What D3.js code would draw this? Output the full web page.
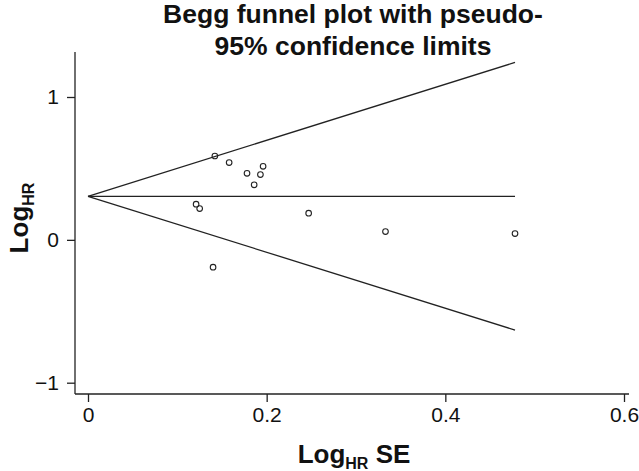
<!DOCTYPE html>
<html>
<head>
<meta charset="utf-8">
<script src="https://cdn.jsdelivr.net/npm/d3@7"></script>
<style>
  body { margin: 0; background: #fff; }
  text { font-family: "Liberation Sans", Arial, sans-serif; fill: #111; }
</style>
</head>
<body>
<script>
// study standard errors and log hazard ratios
var studySE    = [0.142, 0.158, 0.178, 0.196, 0.193, 0.186, 0.121, 0.125, 0.140, 0.247, 0.333, 0.478];
var studyLogHR = [0.587, 0.541, 0.466, 0.515, 0.457, 0.385, 0.250, 0.219, -0.191, 0.187, 0.058, 0.044];
var pooled = 0.305;
var xTicks = [0, 0.2, 0.4, 0.6];
var yTicks = [-1, 0, 1];

var w = 639, h = 471;

var svg = d3.select("body")
    .append("svg")
    .attr("width", w)
    .attr("height", h);

var xScale = d3.scaleLinear().domain([0, 0.6]).range([88, 624]);
var yScale = d3.scaleLinear().domain([-1, 1]).range([382.7, 97]);

var data = studySE.map(function(d, i) { return {se: d, lhr: studyLogHR[i]}; });
var seMax = d3.max(studySE);

// axes
var xAxis = d3.axisBottom(xScale)
    .tickValues(xTicks)
    .tickSize(8)
    .tickPadding(5)
    .tickFormat(function(d) { return d === 0 ? "0" : d3.format(".1f")(d); });

var yAxis = d3.axisLeft(yScale)
    .tickValues(yTicks)
    .tickSize(8)
    .tickPadding(8)
    .tickFormat(function(d) { return d < 0 ? "\u2212" + Math.abs(d) : String(d); });

var gx = svg.append("g")
    .attr("transform", "translate(0,394)")
    .call(xAxis);
var gy = svg.append("g")
    .attr("transform", "translate(75,0)")
    .call(yAxis);

[gx, gy].forEach(function(g) {
    g.select(".domain").remove();
    g.selectAll(".tick line").attr("stroke", "#222").attr("stroke-width", 1.3);
    g.selectAll(".tick text")
        .style("font-family", "'Liberation Sans', Arial, sans-serif")
        .style("font-size", "21px")
        .attr("fill", "#111");
});

// axis lines (plot region is a bit wider than the ticks)
svg.append("line")
    .attr("x1", 75).attr("x2", 629).attr("y1", 394).attr("y2", 394)
    .attr("stroke", "#222").attr("stroke-width", 1.3);
svg.append("line")
    .attr("x1", 75).attr("x2", 75).attr("y1", 52).attr("y2", 394)
    .attr("stroke", "#222").attr("stroke-width", 1.3);

// pseudo 95% limits and pooled estimate
var lines = [
    [pooled, pooled + 1.96 * seMax],
    [pooled, pooled],
    [pooled, pooled - 1.96 * seMax]
];
svg.selectAll(".funnel")
    .data(lines)
    .enter()
    .append("line")
    .attr("class", "funnel")
    .attr("x1", xScale(0))
    .attr("y1", function(d) { return yScale(d[0]); })
    .attr("x2", xScale(seMax))
    .attr("y2", function(d) { return yScale(d[1]); })
    .attr("stroke", "#222")
    .attr("stroke-width", 1.3);

// studies
svg.selectAll("circle")
    .data(data)
    .enter()
    .append("circle")
    .attr("cx", function(d) { return xScale(d.se); })
    .attr("cy", function(d) { return yScale(d.lhr); })
    .attr("r", 2.8)
    .attr("fill", "none")
    .attr("stroke", "#222")
    .attr("stroke-width", 1.1);

// title
var title = svg.append("text")
    .attr("text-anchor", "middle")
    .style("font-size", "26.5px")
    .style("font-weight", "bold");
title.append("tspan").attr("x", 353).attr("y", 23).text("Begg funnel plot with pseudo-");
title.append("tspan").attr("x", 353).attr("y", 55).text("95% confidence limits");

// x label
var xl = svg.append("text")
    .attr("x", 354)
    .attr("y", 463)
    .attr("text-anchor", "middle")
    .style("font-size", "26px")
    .style("font-weight", "bold");
xl.append("tspan").text("Log");
xl.append("tspan").attr("dy", 6).style("font-size", "16px").text("HR");
xl.append("tspan").attr("dy", -6).text(" SE");

// y label
var yl = svg.append("text")
    .attr("transform", "translate(28,218) rotate(-90)")
    .attr("text-anchor", "middle")
    .style("font-size", "26px")
    .style("font-weight", "bold");
yl.append("tspan").text("Log");
yl.append("tspan").attr("dy", 6).style("font-size", "16px").text("HR");
</script>
</body>
</html>
